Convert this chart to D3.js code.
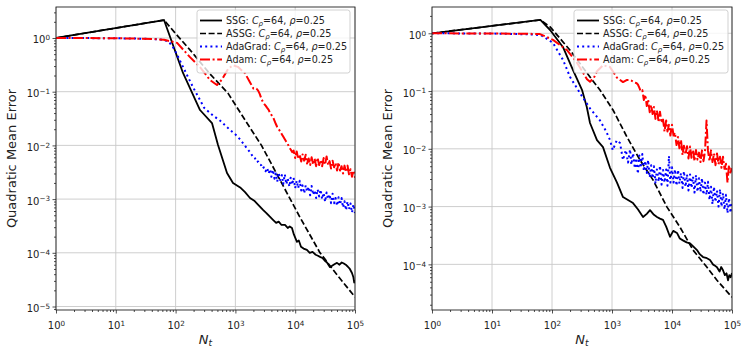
<!DOCTYPE html>
<html><head><meta charset="utf-8">
<script src="https://cdn.jsdelivr.net/npm/d3@7"></script>
<style>body{margin:0;background:#fff;} svg{display:block;font-family:"DejaVu Sans",sans-serif;}</style>
</head><body><svg id="c" width="741" height="348"></svg>
<script>
// ---------------- data ----------------
const xTickExps = [0,1,2,3,4,5];
const methodNames = ["SSG","ASSG","AdaGrad","Adam"];
const Cp = 64, rho = 0.25;
const yLabel = "Quadratic Mean Error";

// shared iteration grid for the noisy tails
const tailN = [2000,2100,2250,2400,2550,2700,2850,3000,3200,3400,3600,3800,4000,4250,4500,4750,5000,5300,5600,6000,6300,6700,7100,7500,8000,8400,8900,9400,10000,10600,11200,11900,12600,13300,14100,15000,15800,16800,17800,18800,20000,21100,22400,23700,25100,26600,28200,29900,31600,33500,35500,37600,39800,42200,44700,47300,50100,53100,56200,59600,63100,66800,70800,75000,79400,84100,89100,94400,100000];

// ---- left panel ----
const L_ssg = [[1,1],[64,2.16],[133,0.223],[256,0.0456],[406,0.0261],[512,0.0102],[724,0.00306],[912,0.0020],[1200,0.00165],[1450,0.00135],[1754,0.00105],[2100,0.00092],[2500,0.00075],[2897,0.00063],[3300,0.00055],[3700,0.00048],[4256,0.00041],[4800,0.00036],[5300,0.00038],[5900,0.00033],[6745,0.00033],[7500,0.00029],[8100,0.00031],[8830,0.00029],[9500,0.00022],[10700,0.00016],[11500,0.00017],[12500,0.00013],[13800,0.00012],[15700,0.000113],[17500,0.0001],[19500,0.000104],[22000,0.000092],[24000,0.000088],[26000,0.000084],[28500,0.00008],[31000,0.000072],[34000,0.000066],[38200,0.000054],[42000,0.000058],[46000,0.000062],[50000,0.000065],[55000,0.00006],[60000,0.000066],[64000,0.000064],[70000,0.00006],[76000,0.000055],[82000,0.00005],[89000,0.000042],[94000,0.000035],[97000,0.000028],[100000,0.000031]];
const L_assg = [[1,1],[64,2.16],[98,1.24],[174,0.60],[376,0.214],[750,0.094],[1450,0.0297],[2730,0.01],[5570,0.00227],[12000,0.00046],[26000,0.0001],[50000,0.000039],[100000,0.000015]];
const L_adagradHead = [[1,1],[10,0.99],[40,0.96],[64,0.92],[78,0.84],[95,0.62],[133,0.29],[195,0.122],[256,0.07],[300,0.05],[422,0.036],[552,0.029],[813,0.0194],[1000,0.016],[1194,0.013],[1450,0.0098],[1700,0.0078]];
const L_adagradTail = [0.0060,0.0060,0.0049,0.0050,0.0044,0.0043,0.0037,0.0039,0.0033,0.0038,
0.0030,0.0036,0.0026,0.0035,0.0024,0.0030,0.0021,0.0031,0.00225,0.0028,
0.0019,0.0029,0.0019,0.0024,0.0017,0.0025,0.00186,0.0025,0.0016,0.0022,
0.0016,0.0022,0.00145,0.0018,0.00128,0.0018,0.00138,0.0017,0.00118,0.00176,
0.0012,0.00146,0.00105,0.00152,0.00112,0.0015,0.0010,0.00131,0.00089,0.00133,
0.0010,0.00123,0.00084,0.00126,0.00084,0.00105,0.00075,0.00108,0.00079,0.00105,
0.0007,0.00091,0.00062,0.0009,0.00065,0.00083,0.00056,0.0008,0.00055];
const L_adamHead = [[1,1],[10,0.99],[40,0.96],[64,0.93],[106,0.81],[174,0.44],[256,0.288],[376,0.165],[492,0.133],[600,0.17],[760,0.27],[912,0.31],[1100,0.29],[1450,0.22],[1750,0.15]];
const L_adamTail = [0.115,0.117,0.114,0.105,0.091,0.076,0.066,0.060,0.055,0.050,
0.046,0.040,0.037,0.034,0.029,0.025,0.022,0.020,0.0183,0.016,
0.0146,0.013,0.0117,0.0106,0.0091,0.0084,0.0075,0.0080,0.0058,0.0077,
0.0056,0.0068,0.0050,0.0068,0.0052,0.0067,0.0046,0.0057,0.0043,0.0060,
0.0044,0.0057,0.0041,0.0059,0.0043,0.0053,0.0041,0.0058,0.0044,0.0062,
0.0043,0.0051,0.0037,0.0052,0.0039,0.0047,0.0034,0.0048,0.0034,0.0041,
0.0030,0.0042,0.0032,0.0042,0.0029,0.0036,0.0026,0.0034,0.0025];

// ---- right panel ----
const R_ssg = [[1,1],[64,1.70],[93,1.14],[152,0.58],[224,0.23],[316,0.105],[380,0.053],[430,0.028],[562,0.0141],[708,0.0107],[926,0.0047],[1212,0.0026],[1525,0.00146],[2240,0.00115],[2700,0.0009],[3290,0.00066],[3800,0.00075],[4300,0.00087],[5000,0.00072],[5620,0.00066],[6300,0.00062],[7080,0.00059],[8000,0.00045],[9260,0.0003],[10500,0.00038],[12100,0.00035],[13500,0.00028],[15200,0.00026],[17500,0.00024],[20000,0.00023],[23000,0.0002],[26100,0.000177],[29000,0.00015],[32900,0.000134],[37000,0.00013],[43000,0.000119],[48000,0.0001],[52000,0.000095],[56200,0.000089],[62000,0.000075],[66000,0.00009],[70800,0.000079],[76000,0.000065],[81000,0.00007],[85800,0.000053],[90000,0.000065],[95000,0.00006],[100000,0.000071]];
const R_assg = [[1,1],[64,1.70],[93,1.29],[200,0.51],[430,0.175],[631,0.104],[1040,0.047],[1780,0.016],[2930,0.0064],[4820,0.0029],[8260,0.00098],[13600,0.00044],[22400,0.000177],[38300,0.000089],[56200,0.000053],[100000,0.000027]];
const R_adagradHead = [[1,1],[10,0.99],[40,0.96],[64,0.93],[72,0.88],[104,0.68],[153,0.345],[200,0.175],[293,0.092],[430,0.05],[631,0.031],[800,0.02],[926,0.0142],[1030,0.0095],[1200,0.014],[1360,0.0126],[1525,0.0064],[1700,0.0095],[1850,0.0058]];
const R_adagradTail = [0.0098,0.0053,0.0084,0.0046,0.0069,0.0037,0.0077,0.0047,0.0081,0.0041,
0.0062,0.0038,0.0064,0.0032,0.0052,0.0031,0.0050,0.0025,0.0044,0.0027,
0.0051,0.0024,0.0043,0.0026,0.0044,0.0023,0.0075,0.0026,0.0048,0.0026,
0.0044,0.0023,0.0043,0.0025,0.0038,0.0021,0.0041,0.0022,0.0036,0.0019,
0.0036,0.0021,0.0033,0.00175,0.0035,0.0018,0.0031,0.0018,0.0031,0.0016,
0.0026,0.0016,0.0027,0.0013,0.0022,0.0011,0.0022,0.0012,0.0019,0.0010,
0.0020,0.0010,0.0017,0.00089,0.0016,0.00077,0.0014,0.00078,0.0012];
const R_adamHead = [[1,1],[10,0.99],[40,0.98],[63,0.97],[104,0.77],[178,0.51],[261,0.31],[383,0.16],[430,0.145],[500,0.17],[562,0.22],[708,0.28],[926,0.26],[1212,0.17],[1525,0.143],[1750,0.155]];
const R_adamTail = [0.155,0.152,0.146,0.140,0.138,0.130,0.115,0.100,0.104,0.070,
0.086,0.055,0.072,0.043,0.057,0.040,0.053,0.033,0.046,0.029,
0.044,0.028,0.032,0.020,0.031,0.020,0.026,0.017,0.026,0.017,
0.019,0.0116,0.016,0.0102,0.0143,0.0078,0.0113,0.0080,0.0111,0.0068,
0.011,0.0070,0.0096,0.0061,0.0095,0.0065,0.0086,0.0059,0.0094,0.0061,
0.0091,0.031,0.0092,0.0061,0.0094,0.0059,0.0083,0.0052,0.0083,0.0054,
0.0073,0.0047,0.0073,0.0045,0.0055,0.0026,0.0052,0.0039,0.0046];

// ---------------- drawing ----------------
const withTail = (head, tail) => head.concat(tailN.map((n,i)=>[n, tail[i]]));
const styles = [
  {color:"#000000", dash:null, w:1.8},
  {color:"#000000", dash:"6,2.6", w:1.7},
  {color:"#0000ff", dash:"2,3.2", w:2},
  {color:"#ff0000", dash:"10,2.6,2,2.6", w:2}
];
const panels = [
  {box:[56,355,7,310], yExp:[-5.065,0.577], yMajor:[-5,-4,-3,-2,-1,0], labelX:11, legendX:197, legendW:153,
   series:[L_ssg, L_assg, withTail(L_adagradHead,L_adagradTail), withTail(L_adamHead,L_adamTail)]},
  {box:[432,732,7,310], yExp:[-4.79,0.455], yMajor:[-4,-3,-2,-1,0], labelX:387, legendX:574, legendW:154,
   series:[R_ssg, R_assg, withTail(R_adagradHead,R_adagradTail), withTail(R_adamHead,R_adamTail)]}
];
const svg = d3.select("#c");
const sup = e => (e<0 ? "\u2212"+(-e) : ""+e);

function minorVals(lo, hi){
  const out=[];
  for(let e=Math.floor(lo); e<=Math.ceil(hi); e++) for(let m=2;m<=9;m++){
    const v=m*Math.pow(10,e); const l=Math.log10(v); if(l>=lo && l<=hi) out.push(v);
  }
  return out;
}
function supLabels(sel){
  sel.selectAll(".tick text").text(null).each(function(d){
    const t=d3.select(this); const e=Math.round(Math.log10(d));
    t.append("tspan").text("10");
    t.append("tspan").attr("dy","-0.45em").attr("font-size","7.2px").text(sup(e));
  });
}

panels.forEach((p,pi)=>{
  const [x0,x1,y0,y1]=p.box;
  const xs=d3.scaleLog().domain([1,1e5]).range([x0,x1]);
  const ys=d3.scaleLog().domain([Math.pow(10,p.yExp[0]),Math.pow(10,p.yExp[1])]).range([y1,y0]);
  const g=svg.append("g");
  const clipId="clip"+pi;
  g.append("clipPath").attr("id",clipId).append("rect").attr("x",x0).attr("y",y0).attr("width",x1-x0).attr("height",y1-y0);
  // grid
  const gg=g.append("g").attr("stroke","#c8c8c8").attr("stroke-width",0.9);
  xTickExps.forEach(e=>{const x=xs(Math.pow(10,e)); gg.append("line").attr("x1",x).attr("x2",x).attr("y1",y0).attr("y2",y1);});
  p.yMajor.forEach(e=>{const y=ys(Math.pow(10,e)); gg.append("line").attr("x1",x0).attr("x2",x1).attr("y1",y).attr("y2",y);});
  // series
  const line=d3.line().x(d=>xs(d[0])).y(d=>ys(d[1]));
  const sg=g.append("g").attr("clip-path","url(#"+clipId+")");
  p.series.forEach((data,i)=>{
    const st=styles[i];
    sg.append("path").attr("d",line(data)).attr("fill","none").attr("stroke",st.color)
      .attr("stroke-width",st.w).attr("stroke-dasharray",st.dash).attr("stroke-linejoin","round");
  });
  // axes
  const xMinor=d3.axisBottom(xs).tickValues(minorVals(0,5)).tickSize(2).tickFormat("").tickSizeOuter(0);
  const xMajor=d3.axisBottom(xs).tickValues(xTickExps.map(e=>Math.pow(10,e))).tickSize(3.5).tickPadding(8.4).tickSizeOuter(0);
  const yMinor=d3.axisLeft(ys).tickValues(minorVals(p.yExp[0],p.yExp[1])).tickSize(2).tickFormat("").tickSizeOuter(0);
  const yMajor=d3.axisLeft(ys).tickValues(p.yMajor.map(e=>Math.pow(10,e))).tickSize(3.5).tickPadding(2.5).tickSizeOuter(0);
  [xMinor,xMajor].forEach(a=>{
    const s=g.append("g").attr("transform","translate(0,"+y1+")").call(a);
    s.select(".domain").remove();
    s.selectAll(".tick line").attr("stroke","#222").attr("stroke-width",0.8);
    s.selectAll("text").attr("fill","#222").attr("font-size","10px").attr("font-family","DejaVu Sans");
    if(a===xMajor) supLabels(s);
  });
  [yMinor,yMajor].forEach(a=>{
    const s=g.append("g").attr("transform","translate("+x0+",0)").call(a);
    s.select(".domain").remove();
    s.selectAll(".tick line").attr("stroke","#222").attr("stroke-width",0.8);
    s.selectAll("text").attr("fill","#222").attr("font-size","10px").attr("font-family","DejaVu Sans").attr("dy","0.5em");
    if(a===yMajor) supLabels(s);
  });
  // frame
  g.append("rect").attr("x",x0).attr("y",y0).attr("width",x1-x0).attr("height",y1-y0)
    .attr("fill","none").attr("stroke","#222").attr("stroke-width",0.9);
  // axis labels
  const xl=g.append("text").attr("x",(x0+x1)/2).attr("y",343.5).attr("text-anchor","middle")
    .attr("font-size","13px").attr("fill","#222");
  xl.append("tspan").attr("font-style","italic").text("N");
  xl.append("tspan").attr("font-style","italic").attr("font-size","9px").attr("dy","2").text("t");
  g.append("text").attr("transform","translate("+p.labelX+","+((y0+y1)/2)+") rotate(-90)")
    .attr("text-anchor","middle").attr("dy","0.35em").attr("font-size","13px").attr("fill","#222").text(yLabel);
  // legend
  const lg=g.append("g");
  lg.append("rect").attr("x",p.legendX).attr("y",10).attr("width",p.legendW).attr("height",63).attr("rx",2.5)
    .attr("fill","#fff").attr("fill-opacity",0.8).attr("stroke","#cccccc").attr("stroke-width",0.9);
  methodNames.forEach((name,i)=>{
    const cy=20.5+i*13, st=styles[i];
    lg.append("line").attr("x1",p.legendX+3).attr("x2",p.legendX+25).attr("y1",cy).attr("y2",cy)
      .attr("stroke",st.color).attr("stroke-width",st.w).attr("stroke-dasharray",st.dash);
    const t=lg.append("text").attr("x",p.legendX+29).attr("y",cy+3.5).attr("font-size","9.6px").attr("fill","#222");
    t.append("tspan").text(name+": ");
    t.append("tspan").attr("font-style","italic").text("C");
    t.append("tspan").attr("font-style","italic").attr("font-size","7px").attr("dy","2").text("\u03c1");
    t.append("tspan").attr("dy","-2").text("="+Cp+", ");
    t.append("tspan").attr("font-style","italic").text("\u03c1");
    t.append("tspan").text("="+rho);
  });
});
</script></body></html>
